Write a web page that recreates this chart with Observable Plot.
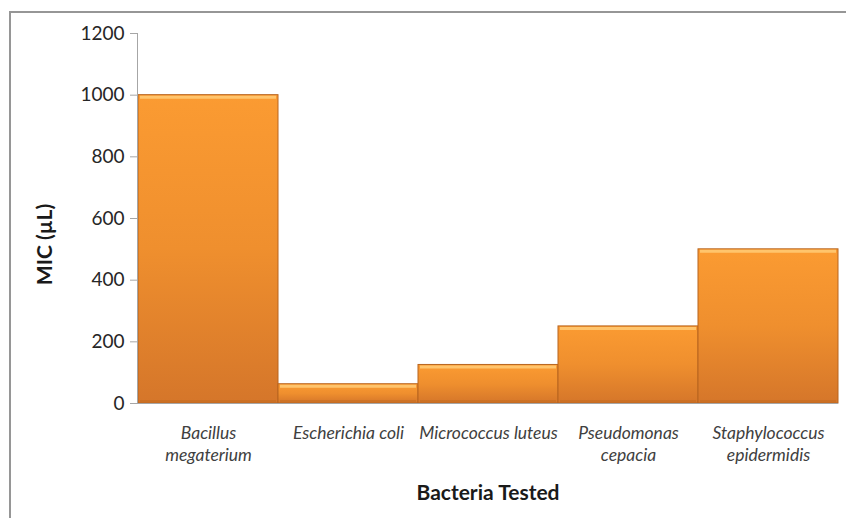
<!DOCTYPE html>
<html><head><meta charset="utf-8">
<script src="https://cdn.jsdelivr.net/npm/d3@7"></script>
<script src="https://cdn.jsdelivr.net/npm/@observablehq/plot@0.6"></script>
<style>
html,body{margin:0;padding:0;background:#fff;overflow:hidden;}
#chart{width:846px;height:518px;overflow:hidden;}
#chart svg{display:block;}
</style></head><body><div id="chart"></div>
<script>
const categories = ["Bacillus megaterium", "Escherichia coli", "Micrococcus luteus", "Pseudomonas cepacia", "Staphylococcus epidermidis"];
const tickLabels = ["Bacillus\nmegaterium", "Escherichia coli", "Micrococcus luteus", "Pseudomonas\ncepacia", "Staphylococcus\nepidermidis"];
const values = [1000, 62.5, 125, 250, 500];
const yTicks = [0, 200, 400, 600, 800, 1000, 1200];
const data = categories.map((c, i) => ({category: c, value: values[i]}));
const labelOf = new Map(categories.map((c, i) => [c, tickLabels[i]]));

const chart = Plot.plot({
  width: 846, height: 518,
  marginLeft: 137, marginRight: 8, marginTop: 33, marginBottom: 115,
  style: {fontFamily: "Lato, 'Open Sans', sans-serif", fontSize: "19px", color: "#262626", background: "#fff"},
  x: {domain: categories, padding: 0, label: null},
  y: {domain: [0, 1200], label: null},
  marks: [
    Plot.barY(data, {x: "category", y: "value", fill: "url(#barGrad)", stroke: "#b8651f", strokeWidth: 1}),
    Plot.tickY(data, {x: "category", y: "value", stroke: "#ffc46c", strokeWidth: 3, dy: 2, inset: 2}),
    Plot.tickY(data, {x: "category", y: 0, stroke: "#c46c22", strokeWidth: 3, dy: -2, inset: 2, strokeOpacity: 0.6}),
    Plot.frame({anchor: "left", stroke: "#a6a6a6"}),
    Plot.ruleY([0], {stroke: "#a6a6a6", insetLeft: -7}),
    Plot.axisY({ticks: yTicks, tickFormat: d => String(d), tickSize: 7, tickPadding: 6, stroke: "#a6a6a6", fill: "#262626", label: "MIC (µL)", labelAnchor: "center", labelArrow: "none", labelOffset: 100}),
    Plot.axisX({tickSize: 0, tickPadding: 19, tickFormat: d => labelOf.get(d), lineHeight: 1.3, label: "Bacteria Tested", labelAnchor: "center", labelOffset: 96, labelArrow: "none"})
  ]
});

const svg = d3.select(chart);
const defs = svg.insert("defs", ":first-child");
const g = defs.append("linearGradient").attr("id", "barGrad").attr("x1", 0).attr("y1", 0).attr("x2", 0).attr("y2", 1);
g.append("stop").attr("offset", "0%").attr("stop-color", "#fb9b32");
g.append("stop").attr("offset", "50%").attr("stop-color", "#ef8f2e");
g.append("stop").attr("offset", "100%").attr("stop-color", "#d5762a");

svg.selectAll('g[aria-label="x-axis tick label"]').attr("font-style", "italic").attr("font-size", 17.5).attr("fill", "#404040");
svg.selectAll('g[aria-label="x-axis label"] text, g[aria-label="y-axis label"] text').attr("font-weight", "bold").attr("font-size", 21).attr("fill", "#1a1a1a");
const yl = svg.select('g[aria-label="y-axis label"]');
yl.attr("transform", "translate(0,26) " + (yl.attr("transform") || ""));

// chart-area border (left and top edges)
svg.append("path").attr("d", "M860,12 H10 V530").attr("fill", "none").attr("stroke", "#969696").attr("stroke-width", 2);

document.getElementById("chart").append(chart);
</script>
</body></html>
